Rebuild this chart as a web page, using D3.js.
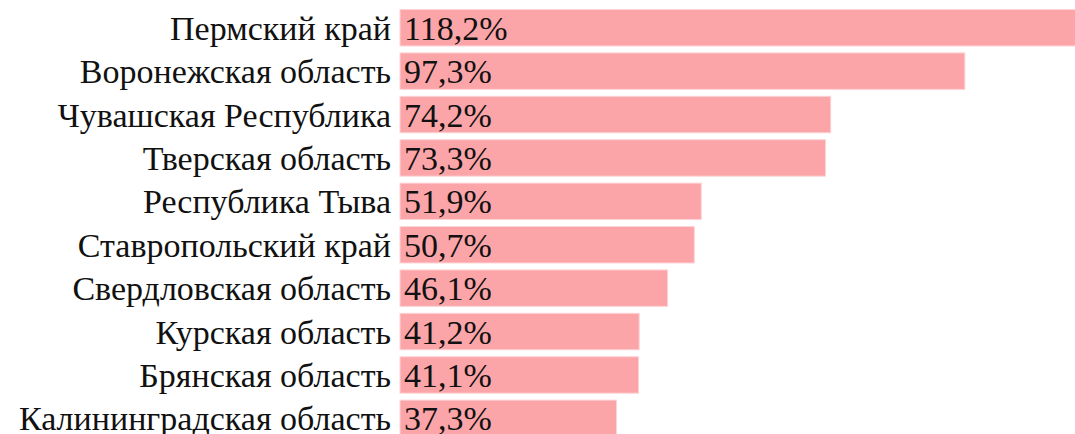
<!DOCTYPE html>
<html><head><meta charset="utf-8">
<script src="https://cdn.jsdelivr.net/npm/d3@7"></script>
<style>html,body{margin:0;padding:0;background:#fff;overflow:hidden}</style>
</head><body>
<svg id="c" width="1075" height="434"></svg>
<script>
const categories = ["Пермский край","Воронежская область","Чувашская Республика","Тверская область","Республика Тыва","Ставропольский край","Свердловская область","Курская область","Брянская область","Калининградская область"];
const values = [118.2, 97.3, 74.2, 73.3, 51.9, 50.7, 46.1, 41.2, 41.1, 37.3];
const valueLabels = ["118,2%","97,3%","74,2%","73,3%","51,9%","50,7%","46,1%","41,2%","41,1%","37,3%"];

const svg = d3.select("#c");
const x = d3.scaleLinear().domain([0, 118.2]).range([400, 400 + 118.2 * 5.805]);
const y = d3.scaleBand().domain(categories).range([6.05, 440.05]).paddingInner(0.16).paddingOuter(0.08);
const font = "'Liberation Serif', serif";

svg.selectAll("rect.bar").data(categories).join("rect")
  .attr("class","bar")
  .attr("x", x(0))
  .attr("y", d => y(d))
  .attr("width", (d,i) => x(values[i]) - x(0))
  .attr("height", y.bandwidth())
  .attr("fill", "#fca5a9")
  .attr("stroke", "#fdd3d5")
  .attr("stroke-width", 1);

svg.selectAll("text.cat").data(categories).join("text")
  .attr("class","cat")
  .attr("x", 391)
  .attr("y", d => y(d) + y.bandwidth()/2 + 12)
  .attr("text-anchor","end")
  .style("font-family", font).style("font-size","34px").attr("fill","#111")
  .text(d => d);

svg.selectAll("text.val").data(categories).join("text")
  .attr("class","val")
  .attr("x", x(0) + 4)
  .attr("y", d => y(d) + y.bandwidth()/2 + 12)
  .style("font-family", font).style("font-size","34px").attr("fill","#111")
  .text((d,i) => valueLabels[i]);
</script>
</body></html>
